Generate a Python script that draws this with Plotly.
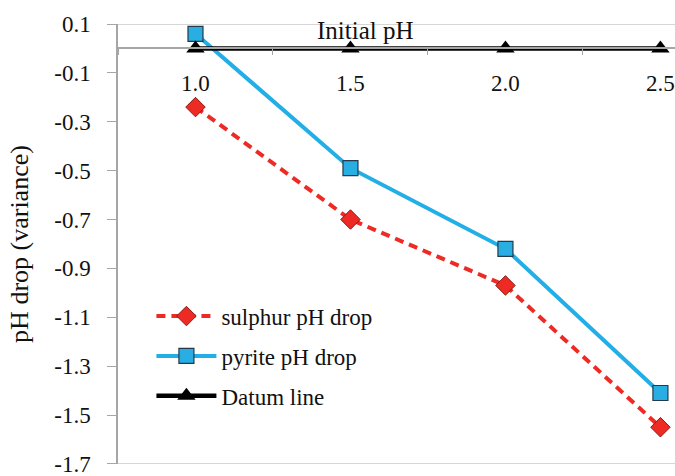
import plotly.graph_objects as go

# Initial pH categories on the horizontal axis
initial_ph = ["1.0", "1.5", "2.0", "2.5"]

# pH drop (variance) for each medium
sulphur_drop = [-0.24, -0.70, -0.97, -1.55]
pyrite_drop = [0.06, -0.49, -0.82, -1.41]
datum_line = [0.0, 0.0, 0.0, 0.0]

# Vertical axis ticks
y_tick_vals = [0.1, -0.1, -0.3, -0.5, -0.7, -0.9, -1.1, -1.3, -1.5, -1.7]
y_tick_text = ["0.1", "-0.1", "-0.3", "-0.5", "-0.7", "-0.9", "-1.1", "-1.3", "-1.5", "-1.7"]

FONT = "Liberation Serif"
GREY = "#a6a6a6"

fig = go.Figure()

fig.add_trace(go.Scatter(
    x=initial_ph, y=sulphur_drop, name="sulphur pH drop",
    mode="lines+markers", legendgroup="a",
    line=dict(color="#ee2a24", width=4, dash="9px,6px"),
    marker=dict(symbol="diamond", size=15, color="#ee2a24",
                line=dict(color="#8a1c14", width=1)),
    cliponaxis=False,
))
fig.add_trace(go.Scatter(
    x=initial_ph, y=pyrite_drop, name="pyrite pH drop",
    mode="lines+markers", legendgroup="b",
    line=dict(color="#22aee6", width=4),
    marker=dict(symbol="square", size=15, color="#29aee4",
                line=dict(color="#25394a", width=1.2)),
    cliponaxis=False,
))
fig.add_trace(go.Scatter(
    x=initial_ph, y=datum_line, name="Datum line",
    mode="lines+markers", legendgroup="c",
    line=dict(color="#000000", width=4.5),
    marker=dict(symbol="triangle-up", size=16, color="#000000"),
    cliponaxis=False,
))

# Plot-area border lines at the top and bottom of the value range
for yv in (0.1, -1.7):
    fig.add_shape(type="line", xref="paper", yref="y", x0=0, x1=1, y0=yv, y1=yv,
                  line=dict(color="#c8c8c8", width=1.5), layer="below")

fig.add_annotation(
    text="Initial pH", xref="paper", yref="y", x=0.445, y=0.073,
    showarrow=False, font=dict(family=FONT, size=25, color="#111111"),
    xanchor="center", yanchor="middle",
)

fig.update_layout(
    width=675, height=476,
    margin=dict(l=118, r=0, t=24, b=12),
    paper_bgcolor="white", plot_bgcolor="white",
    font=dict(family=FONT, size=23, color="#111111"),
    showlegend=True,
    legend=dict(
        x=0.06, y=0.385, xanchor="left", yanchor="top",
        bgcolor="rgba(0,0,0,0)", font=dict(family=FONT, size=23),
        tracegroupgap=7, itemwidth=60,
    ),
    xaxis=dict(
        type="category", range=[-0.5, 3.094],
        anchor="free", position=1.7 / 1.8,
        showline=True, linecolor=GREY, linewidth=1.5,
        ticks="outside", tickson="boundaries", ticklen=6, tickcolor=GREY,
        showgrid=False, zeroline=False,
        tickfont=dict(family=FONT, size=23),
        ticklabelstandoff=14,
    ),
    yaxis=dict(
        range=[-1.7005, 0.1], tickvals=y_tick_vals, ticktext=y_tick_text,
        showline=True, linecolor=GREY, linewidth=1.5,
        ticks="outside", ticklen=9, tickcolor=GREY,
        showgrid=False, zeroline=False,
        tickfont=dict(family=FONT, size=23),
        ticklabelstandoff=12, ticklabeloverflow="allow",
        title=dict(text="pH drop (variance)", font=dict(family=FONT, size=26), standoff=18),
    ),
)

fig.write_html("out.html")
